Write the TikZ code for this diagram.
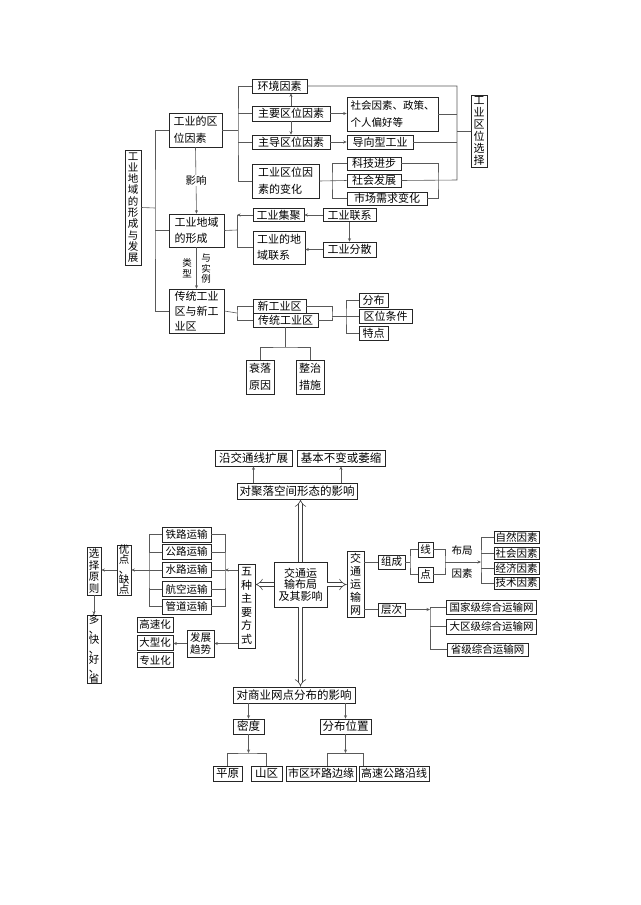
\documentclass[tikz,border=0pt]{standalone}
\usepackage{fontspec}
\setmainfont{Noto Sans CJK SC}
\usetikzlibrary{arrows.meta, positioning, shadows, calc}

\tikzset{
  box/.style={rectangle, draw=black!85, fill=white, line width=0.6pt, inner xsep=1pt, inner ysep=0pt,
    drop shadow={shadow xshift=0.5pt, shadow yshift=-0.5pt, fill=black!70, opacity=0.6}},
  sz/.style 2 args={minimum width=#1pt, minimum height=#2pt},
  upbox/.style={box, align=left, font=\fontsize{11}{16.5}\selectfont},
  lowbox/.style={box, align=center, font=\fontsize{10.5}{11.5}\selectfont},
  lowbig/.style={box, align=center, font=\fontsize{11.5}{12}\selectfont},
  vbox/.style={box, align=center, inner xsep=0pt},
  lbl/.style={inner sep=0.5pt, align=center, font=\fontsize{10.5}{11}\selectfont},
  ln/.style={draw=black!65, line width=0.6pt},
  arr/.style={ln, -{Stealth[length=3.5pt, width=3pt]}},
  dbl/.style={draw=black!75, line width=0.6pt, double=white, double distance=3.4pt, -{Implies}}
}

\begin{document}
\begin{tikzpicture}[x=1pt, y=-1pt]
\fill[white] (0,0) rectangle (640,905);
\useasboundingbox (0,0) rectangle (640,905);

% ===== 上图：工业地域的形成与发展 =====
\node[vbox, sz={16}{115}, font=\fontsize{10.5}{11.3}\selectfont] (title) at (133,207.5) {工\\业\\地\\域\\的\\形\\成\\与\\发\\展};

% 工业的区位因素
\node[upbox, sz={53}{34}] (locf) at (195.5,130) {工业的区\\位因素};
\node[upbox, sz={55}{14}] (env) at (279.5,86) {环境因素};
\node[upbox, sz={78}{15}] (mainf) at (291,113.5) {主要区位因素};
\node[upbox, sz={78}{14}] (leadf) at (291,142) {主导区位因素};
\node[upbox, sz={67}{34}] (chg) at (285.5,181) {工业区位因\\素的变化};
\node[upbox, sz={91}{34}, font=\fontsize{10.5}{16.5}\selectfont] (soc) at (392.5,114) {社会因素、政策、\\个人偏好等};
\node[upbox, sz={66}{14}] (guide) at (380,142) {导向型工业};
\node[upbox, sz={54}{13}] (tech) at (374,163.5) {科技进步};
\node[upbox, sz={54}{13}] (socdev) at (374,180.5) {社会发展};
\node[upbox, sz={80}{13}] (mkt) at (387,198.5) {市场需求变化};
\node[vbox, sz={16}{72}, font=\fontsize{11}{12}\selectfont] (sel) at (479,131) {工\\业\\区\\位\\选\\择};

% 工业地域的形成
\node[upbox, sz={55}{33}] (form) at (196.5,230.5) {工业地域\\的形成};
\node[upbox, sz={51}{13}] (agg) at (278.5,215) {工业集聚};
\node[upbox, sz={52}{33}] (link) at (279,247.5) {工业的地\\域联系};
\node[upbox, sz={53}{13}] (lnk) at (349.5,215) {工业联系};
\node[upbox, sz={53}{15}] (disp) at (349.5,249.5) {工业分散};

% 传统工业区与新工业区
\node[upbox, sz={55}{44}, font=\fontsize{11}{15}\selectfont] (trad) at (196.5,311) {传统工业\\区与新工\\业区};
\node[upbox, sz={53}{14}] (newz) at (279.5,306) {新工业区};
\node[upbox, sz={65}{14}] (oldz) at (285.5,320) {传统工业区};
\node[upbox, sz={29}{14}] (dist) at (373.5,300) {分布};
\node[upbox, sz={53}{14}] (cond) at (385.5,316) {区位条件};
\node[upbox, sz={29}{14}] (feat) at (373.5,333) {特点};
\node[upbox, align=center, sz={28}{34}] (dec) at (260,377) {衰落\\原因};
\node[upbox, align=center, sz={28}{34}] (mea) at (310,377) {整治\\措施};

% 上图连线
\coordinate (sp) at (155,208);
\coordinate (b1) at (238,130);
\coordinate (b2) at (457,131);
\coordinate (b2b) at (457,180);
\coordinate (b3) at (332,181);
\coordinate (b4) at (438,181);
\coordinate (b5) at (237,230);
\coordinate (b6) at (237,313);
\coordinate (b7) at (332,316);
\coordinate (b8) at (346,316);
\coordinate (b9) at (285.5,347);

\draw[ln] (title.east) -- (sp);
\draw[ln] (locf.west) -| (sp) |- (trad.west);
\draw[ln] (form.west) -- (form.west -| sp);

\draw[ln] (locf.east) -- (b1);
\draw[ln] (env.west) -| (b1) |- (chg.west);
\draw[ln] (b1 |- mainf.west) -- (mainf.west);
\draw[ln] (b1 |- leadf.west) -- (leadf.west);
\draw[arr] (mainf.north) -- (mainf.north |- env.south);
\draw[arr] (mainf.south) -- (leadf.north);
\draw[arr] (mainf.east) -- (mainf.east -| soc.west);
\draw[arr] (leadf.east) -- (leadf.east -| guide.west);

\draw[ln] (env.east) -| (b2b) -- (socdev.east);
\draw[ln] (soc.east) -- (soc.east -| b2);
\draw[ln] (guide.east) -- (guide.east -| b2);
\draw[ln] (b2) -- (sel.west);
\draw[ln] (chg.east) -- (socdev.west);
\draw[ln] (tech.west) -| (b3) |- (mkt.west);
\draw[ln] (tech.east) -| (b4) |- (mkt.east);

\draw[arr] (locf.south) -- node[lbl, fill=white, font=\fontsize{10.5}{11}\selectfont] (infl) {影响} (form.north);
\draw[arr] (form.south) -- (trad.north);
\node[lbl, font=\fontsize{9.5}{11}\selectfont] (kind) at (187,268) {类\\型};
\node[lbl, font=\fontsize{9.5}{10.5}\selectfont] (exm) at (206,268.5) {与\\实\\例};

\draw[ln] (form.east) -- (b5);
\draw[arr] (agg.west) -- (agg.west -| b5);
\draw[ln] (b5 |- agg.west) |- (link.west);
\draw[arr] (lnk.west) -- (agg.east);
\draw[arr] (lnk.south) -- (disp.north);
\draw[arr] (disp.west) -- (disp.west -| link.east);

\draw[ln] (trad.east) -- (b6);
\draw[ln] (newz.west) -| (b6) |- (oldz.west);
\draw[ln] (newz.east) -| (b7) |- (oldz.east);
\draw[ln] (b7) -- (b8);
\draw[ln] (dist.west) -| (b8) |- (feat.west);
\draw[ln] (b8) -- (cond.west);
\draw[ln] (oldz.south) -- (b9);
\draw[ln] (dec.north) |- (b9) -| (mea.north);

% ===== 下图：交通运输布局及其影响 =====
\node[lowbox, sz={53}{45}, font=\fontsize{11}{11.5}\selectfont] (core) at (300.5,584.5) {交通运\\输布局\\及其影响};

% 对聚落空间形态的影响
\node[lowbig, sz={120}{16}] (sett) at (297,491) {对聚落空间形态的影响};
\node[lowbig, sz={77}{16}] (tr1) at (253.5,458) {沿交通线扩展};
\node[lowbig, sz={88}{16}] (tr2) at (341,458) {基本不变或萎缩};

% 五种主要方式
\node[vbox, sz={17}{84}, font=\fontsize{11}{13.5}\selectfont] (five) at (246.5,606) {五\\种\\主\\要\\方\\式};
\node[lowbox, sz={49}{15}] (rail) at (186.5,534.5) {铁路运输};
\node[lowbox, sz={49}{15}] (road) at (186.5,552) {公路运输};
\node[lowbox, sz={49}{15}] (water) at (186.5,570) {水路运输};
\node[lowbox, sz={49}{15}] (air) at (186.5,589) {航空运输};
\node[lowbox, sz={49}{15}] (pipe) at (186.5,606.5) {管道运输};
\node[vbox, sz={14}{50}, font=\fontsize{10.5}{10}\selectfont] (pros) at (124,570) {优\\点\\、\\缺\\点};
\node[vbox, sz={14}{48}, font=\fontsize{10.5}{11.5}\selectfont] (choose) at (94,571) {选\\择\\原\\则};
\node[vbox, sz={14}{66}, font=\fontsize{10.5}{9.4}\selectfont] (dkh) at (94,649) {多\\、\\快\\、\\好\\、\\省};
\node[lowbox, sz={27}{27}, font=\fontsize{10.5}{12}\selectfont] (trend) at (200.5,643.5) {发展\\趋势};
\node[lowbox, sz={36}{15}] (fast) at (155,624.5) {高速化};
\node[lowbox, sz={36}{15}] (large) at (155,642.5) {大型化};
\node[lowbox, sz={36}{15}] (spec) at (155,660) {专业化};

% 交通运输网
\node[vbox, sz={17}{66}, font=\fontsize{11}{13}\selectfont] (net) at (355.5,584) {交\\通\\运\\输\\网};
\node[lowbox, sz={27}{14}] (comp) at (391.5,562) {组成};
\node[lowbox, sz={27}{13}] (lvl) at (391.5,609.5) {层次};
\node[lowbox, sz={15}{15}] (lin) at (425.5,549.5) {线};
\node[lowbox, sz={15}{15}] (pnt) at (425.5,574.5) {点};
\node[lbl] (lay) at (462,551) {布局};
\node[lbl] (fac) at (462,573) {因素};
\node[lowbox, sz={45}{12}] (natf) at (516.5,537.5) {自然因素};
\node[lowbox, sz={45}{12}] (socf) at (516.5,553) {社会因素};
\node[lowbox, sz={45}{12}] (ecof) at (516.5,568) {经济因素};
\node[lowbox, sz={45}{12}] (tecf) at (516.5,583) {技术因素};
\node[lowbox, sz={90}{14}] (natl) at (491.5,607.5) {国家级综合运输网};
\node[lowbox, sz={90}{15}] (regl) at (491.5,626.5) {大区级综合运输网};
\node[lowbox, sz={81}{13}] (prvl) at (487.5,649.5) {省级综合运输网};

% 对商业网点分布的影响
\node[lowbig, sz={122}{16}] (comm) at (294,695) {对商业网点分布的影响};
\node[lowbig, sz={31}{15}] (dens) at (248.5,726.5) {密度};
\node[lowbig, sz={51}{15}] (pos) at (345.5,726.5) {分布位置};
\node[lowbig, sz={29}{15}] (plain) at (227.5,773.5) {平原};
\node[lowbig, sz={31}{15}] (mtn) at (266.5,773.5) {山区};
\node[lowbig, sz={70}{15}, font=\fontsize{11}{12}\selectfont] (ring) at (321,773.5) {市区环路边缘};
\node[lowbig, sz={70}{15}, font=\fontsize{11}{12}\selectfont] (hwy) at (394,773.5) {高速公路沿线};

% 下图连线
\coordinate (c1) at (225,570);
\coordinate (c2) at (149,570);
\coordinate (c3) at (410,562);
\coordinate (c4) at (445,562);
\coordinate (c5) at (481,562);
\coordinate (c6) at (430,609.5);
\coordinate (c7) at (248.5,753);
\coordinate (c8) at (345.5,753);
\coordinate (c8l) at (327,753);
\coordinate (c8r) at (363,753);

\draw[dbl] (core.north) -- (core.north |- sett.south);
\draw[dbl] (core.south) -- (core.south |- comm.north);
\draw[dbl] (core.west) -- (core.west -| five.east);
\draw[dbl] (core.east) -- (core.east -| net.west);

\draw[arr] (tr1.south |- sett.north) -- (tr1.south);
\draw[arr] (tr2.south |- sett.north) -- (tr2.south);

\draw[arr] (five.west |- c1) -- (c1);
\draw[ln] (rail.east) -| (c1) |- (pipe.east);
\draw[ln] (rail.west) -| (c2) |- (pipe.west);
\foreach \m in {road, water, air} {
  \draw[ln] (\m.east) -- (\m.east -| c1);
  \draw[ln] (\m.west) -- (\m.west -| c2);
}
\draw[arr] (c2) -- (c2 -| pros.east);
\draw[arr] (pros.west) -- (pros.west -| choose.east);
\draw[arr] (choose.south) -- (dkh.north);
\draw[arr] (five.west |- trend.east) -- (trend.east);
\draw[arr] (trend.west) -- (trend.west -| large.east);

\draw[ln] (net.east |- comp.west) -- (comp.west);
\draw[ln] (net.east |- lvl.west) -- (lvl.west);
\draw[ln] (comp.east) -- (c3);
\draw[ln] (lin.west) -| (c3) |- (pnt.west);
\draw[ln] (lin.east) -| (c4) |- (pnt.east);
\draw[arr] (c4) -- (c5);
\draw[ln] (natf.west) -| (c5) |- (tecf.west);
\draw[ln] (socf.west) -- (socf.west -| c5);
\draw[ln] (ecof.west) -- (ecof.west -| c5);
\draw[arr] (lvl.east) -- (c6);
\draw[ln] (natl.west) -| (c6) |- (prvl.west);
\draw[ln] (regl.west) -- (regl.west -| c6);

\draw[arr] (dens.north |- comm.south) -- (dens.north);
\draw[arr] (pos.north |- comm.south) -- (pos.north);
\draw[arr] (dens.south) -- (c7);
\draw[ln] (plain.north) |- (c7) -| (mtn.north);
\draw[arr] (pos.south) -- (c8);
\draw[ln] (c8l |- ring.north) -- (c8l) -- (c8r) -- (c8r |- hwy.north);

\end{tikzpicture}
\end{document}
